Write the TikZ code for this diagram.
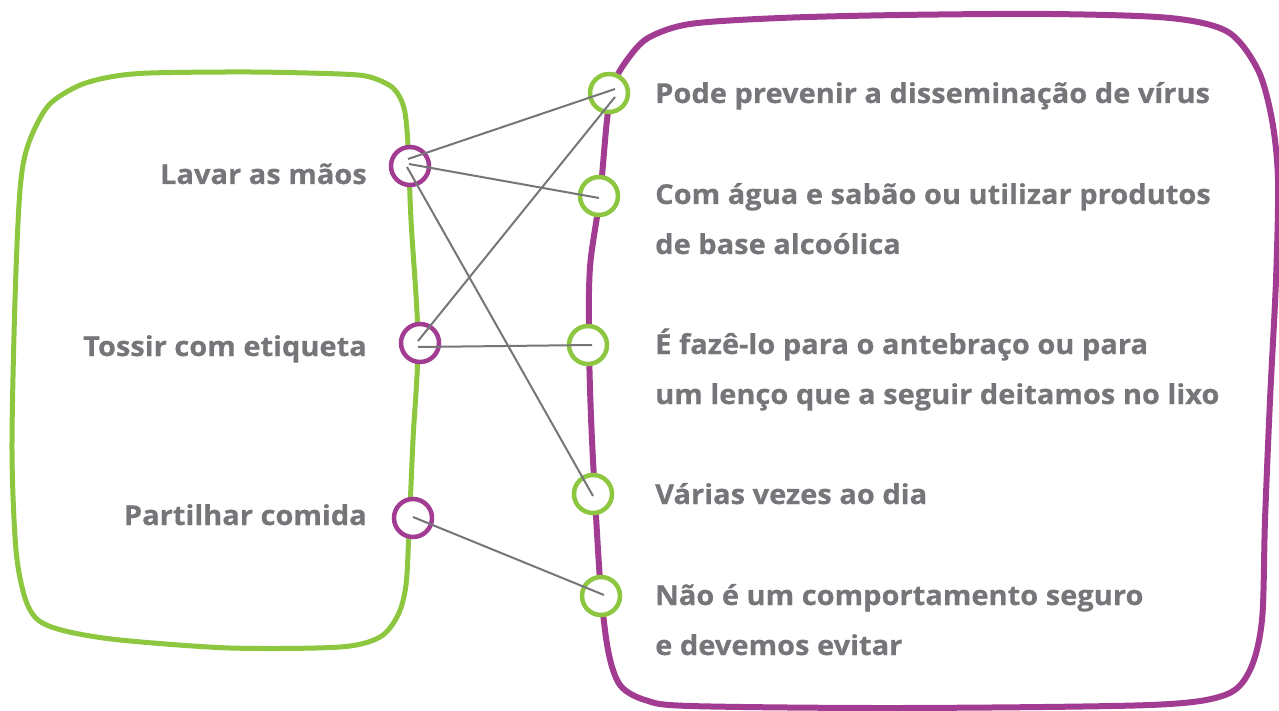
\documentclass[tikz,border=0pt]{standalone}
\usepackage{fontspec}
\setmainfont{Open Sans}[FakeStretch=1.06, BoldFeatures={FakeBold=0.5}]
\definecolor{leafgreen}{HTML}{8DC63F}
\definecolor{plum}{HTML}{A23C92}
\definecolor{inkgray}{HTML}{76767A}
\tikzset{
	blob/.style={line width=5pt, line join=round},
	ring/.style={circle, draw, fill=white, line width=4.5pt, minimum size=38pt, inner sep=0pt},
	lhs/.style={ring, draw=plum},
	rhs/.style={ring, draw=leafgreen},
	itemtext/.style={text=inkgray, font=\fontsize{27.4}{50}\selectfont\bfseries, inner sep=0pt},
	link/.style={draw=inkgray, line width=2pt}
}
\begin{document}
\begin{tikzpicture}[x=1pt, y=-1pt]
		\useasboundingbox (0,0) rectangle (1279,711);
		
		% Green frame
		\draw[blob, leafgreen] plot[smooth cycle] coordinates {(150,73) (250,72) (340,74) (370,77) (393,88) (404,108) (408,145) (411,220) (418,340) (413,440) (409,530) (406,585) (398,615) (380,637) (340,647) (230,648) (120,640) (65,631) (38,620) (25,598) (16,550) (12,450) (15,300) (20,190) (28,145) (48,106) (78,86) (110,77)};
		
		% Purple frame
		\draw[blob, plum, line width=6pt] plot[smooth cycle] coordinates {(627,60) (648,38) (690,24) (780,18) (900,15) (1050,14) (1170,18) (1228,32) (1258,70) (1272,120) (1278,180) (1276,280) (1270,400) (1265,520) (1262,620) (1250,670) (1225,695) (1150,705) (900,708) (690,706) (645,700) (620,685) (608,650) (600,580) (592,440) (589,345) (590,267) (600,196) (607,120) (613,85)};
		
		% Left items
		\node[itemtext, anchor=base east] (t1) at (367,184) {Lavar as mãos};
		\node[itemtext, anchor=base east] (t2) at (367,356) {Tossir com etiqueta};
		\node[itemtext, anchor=base east] (t3) at (367,525) {Partilhar comida};
		
		% Right items (base = last line)
		\node[itemtext, anchor=base west, align=left] (s1) at (655,103) {Pode prevenir a disseminação de vírus};
		\node[itemtext, anchor=base west, align=left] (s2) at (655,254) {Com água e sabão ou utilizar produtos\\de base alcoólica};
		\node[itemtext, anchor=base west, align=left] (s3) at (655,404) {É fazê-lo para o antebraço ou para\\um lenço que a seguir deitamos no lixo};
		\node[itemtext, anchor=base west, align=left] (s4) at (655,504) {Várias vezes ao dia};
		\node[itemtext, anchor=base west, align=left] (s5) at (655,655) {Não é um comportamento seguro\\e devemos evitar};
		
		% Rings
		\node[lhs] (l1) at (410,166) {};
		\node[lhs] (l2) at (420,343) {};
		\node[lhs] (l3) at (413,518) {};
		\node[rhs] (r1) at (609,93) {};
		\node[rhs] (r2) at (599,196) {};
		\node[rhs] (r3) at (588,345) {};
		\node[rhs] (r4) at (593,494) {};
		\node[rhs] (r5) at (601,596) {};
		
		% Matching lines
		\draw[link] ([shift={(-2,-7)}]l1.center) -- ([shift={(6,-4)}]r1.center);
		\draw[link] ([shift={(-1,-2)}]l1.center) -- ([shift={(0,2)}]r2.center);
		\draw[link] ([shift={(-3,1)}]l1.center) -- ([shift={(0,2)}]r4.center);
		\draw[link] ([shift={(-2,-2)}]l2.center) -- ([shift={(6,4)}]r1.center);
		\draw[link] ([shift={(-2,4)}]l2.center) -- ([shift={(4,0)}]r3.center);
		\draw[link] ([shift={(0,-1)}]l3.center) -- ([shift={(3,-1)}]r5.center);
		
	\end{tikzpicture}
\end{document}
